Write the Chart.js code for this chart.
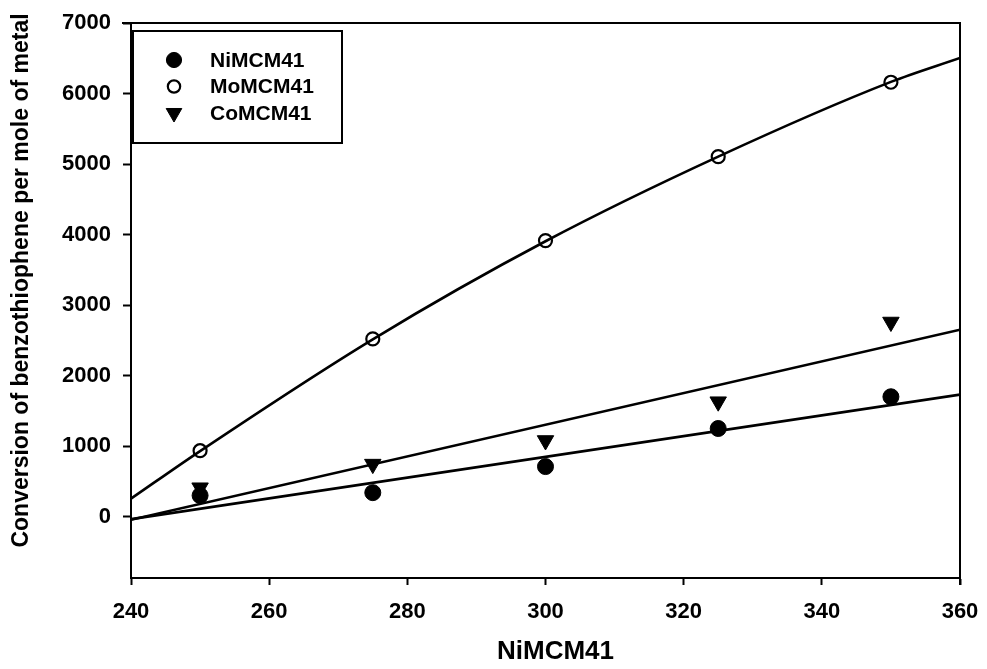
<!DOCTYPE html>
<html>
<head>
<meta charset="utf-8">
<script src="https://cdn.jsdelivr.net/npm/chart.js@4/dist/chart.umd.min.js"></script>
<style>
  html, body { margin: 0; padding: 0; background: #ffffff; }
  #wrap { width: 987px; height: 669px; }
</style>
</head>
<body>
<div id="wrap"><canvas id="chart" width="987" height="669"></canvas></div>
<script>
// Measured conversions for each catalyst at the five loadings
const loadings = [250, 275, 300, 325, 350];
const niConversion = [300, 340, 710, 1250, 1700];
const moConversion = [935, 2520, 3915, 5105, 6160];
const coConversion = [410, 745, 1080, 1630, 2760];

// Fitted trend lines
const moFitX = [240, 250, 275, 300, 325, 350, 360];
const moFitY = [255, 930, 2515, 3905, 5105, 6165, 6505];
const linFitX = [240, 360];
const niFitY = [-35, 1730];
const coFitY = [-45, 2650];

// Axes
const xTicks = [240, 260, 280, 300, 320, 340, 360];
const yTicks = [0, 1000, 2000, 3000, 4000, 5000, 6000, 7000];
const seriesNames = ['NiMCM41', 'MoMCM41', 'CoMCM41'];
const xTitle = 'NiMCM41';
const yTitle = 'Conversion of benzothiophene per mole of metal';

const FONT = '"Liberation Sans", Arial, Helvetica, sans-serif';
const INK = '#000000';

const pts = (xs, ys) => xs.map((x, i) => ({ x: x, y: ys[i] }));

const markerStyles = [
  { pointStyle: 'circle', radius: 8, rotation: 0, fill: INK, borderWidth: 1 },
  { pointStyle: 'circle', radius: 6.5, rotation: 0, fill: 'rgba(0,0,0,0)', borderWidth: 2.2 },
  { pointStyle: 'triangle', radius: 9.5, rotation: 180, fill: INK, borderWidth: 1 }
];

function markerDataset(label, ys, style) {
  return {
    label: label,
    data: pts(loadings, ys),
    showLine: false,
    pointStyle: style.pointStyle,
    pointRadius: style.radius,
    pointHoverRadius: style.radius,
    pointRotation: style.rotation,
    pointBackgroundColor: style.fill,
    pointBorderColor: INK,
    pointBorderWidth: style.borderWidth,
    order: 0
  };
}

function fitDataset(xs, ys) {
  return {
    label: '',
    data: pts(xs, ys),
    showLine: true,
    borderColor: INK,
    borderWidth: 2.6,
    pointRadius: 0,
    pointHoverRadius: 0,
    cubicInterpolationMode: 'monotone',
    fill: false,
    order: 1
  };
}

// Box around the plot: top and right edges
const frame = {
  id: 'frame',
  afterDraw(chart) {
    const { ctx, chartArea: a } = chart;
    ctx.save();
    ctx.strokeStyle = INK;
    ctx.lineWidth = 2;
    ctx.beginPath();
    ctx.moveTo(a.left - 9, a.top);
    ctx.lineTo(a.right, a.top);
    ctx.lineTo(a.right, a.bottom + 7);
    ctx.stroke();
    ctx.restore();
  }
};

// Axis titles
const axisTitles = {
  id: 'axisTitles',
  afterDraw(chart) {
    const { ctx, chartArea: a } = chart;
    ctx.save();
    ctx.fillStyle = INK;
    ctx.textAlign = 'center';
    ctx.textBaseline = 'middle';
    ctx.font = 'bold 26px ' + FONT;
    ctx.fillText(xTitle, (a.left + a.right) / 2 + 10, a.bottom + 74);
    ctx.translate(22, (a.top + a.bottom) / 2 - 20);
    ctx.rotate(-Math.PI / 2);
    ctx.font = 'bold 23px ' + FONT;
    ctx.fillText(yTitle, 0, 0);
    ctx.restore();
  }
};

function drawMarker(ctx, style, x, y) {
  ctx.beginPath();
  if (style.pointStyle === 'triangle') {
    const r = style.radius;
    const rot = style.rotation * Math.PI / 180;
    for (let k = 0; k < 3; k++) {
      const ang = rot + k * 2 * Math.PI / 3;
      const px = x + Math.sin(ang) * r;
      const py = y - Math.cos(ang) * r;
      if (k === 0) ctx.moveTo(px, py); else ctx.lineTo(px, py);
    }
    ctx.closePath();
  } else {
    ctx.arc(x, y, style.radius, 0, Math.PI * 2);
  }
  ctx.fillStyle = style.fill;
  ctx.fill();
  ctx.lineWidth = style.borderWidth;
  ctx.strokeStyle = INK;
  ctx.stroke();
}

// Framed legend in the upper-left corner of the plot
const boxedLegend = {
  id: 'boxedLegend',
  afterDraw(chart) {
    const { ctx, chartArea: a } = chart;
    const left = a.left + 2, top = a.top + 8, w = 209, h = 112;
    ctx.save();
    ctx.fillStyle = '#ffffff';
    ctx.fillRect(left, top, w, h);
    ctx.strokeStyle = INK;
    ctx.lineWidth = 2;
    ctx.strokeRect(left, top, w, h);
    ctx.font = 'bold 21px ' + FONT;
    ctx.textAlign = 'left';
    ctx.textBaseline = 'middle';
    seriesNames.forEach((name, i) => {
      const y = top + 29 + i * 26.5;
      const s = Object.assign({}, markerStyles[i], { radius: markerStyles[i].radius * 0.95 });
      drawMarker(ctx, s, left + 41, y);
      ctx.fillStyle = INK;
      ctx.fillText(name, left + 77, y + 1);
    });
    ctx.restore();
  }
};

const tickFont = { family: FONT, size: 22, weight: 'bold' };
const plainNumber = (value) => String(value);

new Chart(document.getElementById('chart'), {
  type: 'scatter',
  data: {
    datasets: [
      markerDataset(seriesNames[0], niConversion, markerStyles[0]),
      markerDataset(seriesNames[1], moConversion, markerStyles[1]),
      markerDataset(seriesNames[2], coConversion, markerStyles[2]),
      fitDataset(moFitX, moFitY),
      fitDataset(linFitX, niFitY),
      fitDataset(linFitX, coFitY)
    ]
  },
  options: {
    responsive: false,
    animation: false,
    devicePixelRatio: 1,
    layout: { padding: { left: 0, top: 23, right: 27, bottom: 0 } },
    plugins: {
      legend: { display: false },
      tooltip: { enabled: false }
    },
    scales: {
      x: {
        type: 'linear',
        min: 240,
        max: 360,
        afterBuildTicks: (scale) => { scale.ticks = xTicks.map(v => ({ value: v })); },
        afterFit: (scale) => { scale.height = 91; scale.paddingLeft = 0; scale.paddingRight = 0; },
        ticks: { color: INK, font: tickFont, padding: 14, maxRotation: 0, autoSkip: false, callback: plainNumber },
        grid: { display: true, drawOnChartArea: false, drawTicks: true, tickLength: 7, tickWidth: 2, color: INK },
        border: { display: true, color: INK, width: 2 }
      },
      y: {
        type: 'linear',
        min: -870,
        max: 7000,
        afterBuildTicks: (scale) => { scale.ticks = yTicks.map(v => ({ value: v })); },
        afterFit: (scale) => { scale.width = 131; scale.paddingTop = 0; scale.paddingBottom = 0; },
        ticks: { color: INK, font: tickFont, padding: 12, autoSkip: false, callback: plainNumber },
        grid: { display: true, drawOnChartArea: false, drawTicks: true, tickLength: 8, tickWidth: 2, color: INK },
        border: { display: true, color: INK, width: 2 }
      }
    }
  },
  plugins: [frame, axisTitles, boxedLegend]
});
</script>
</body>
</html>
